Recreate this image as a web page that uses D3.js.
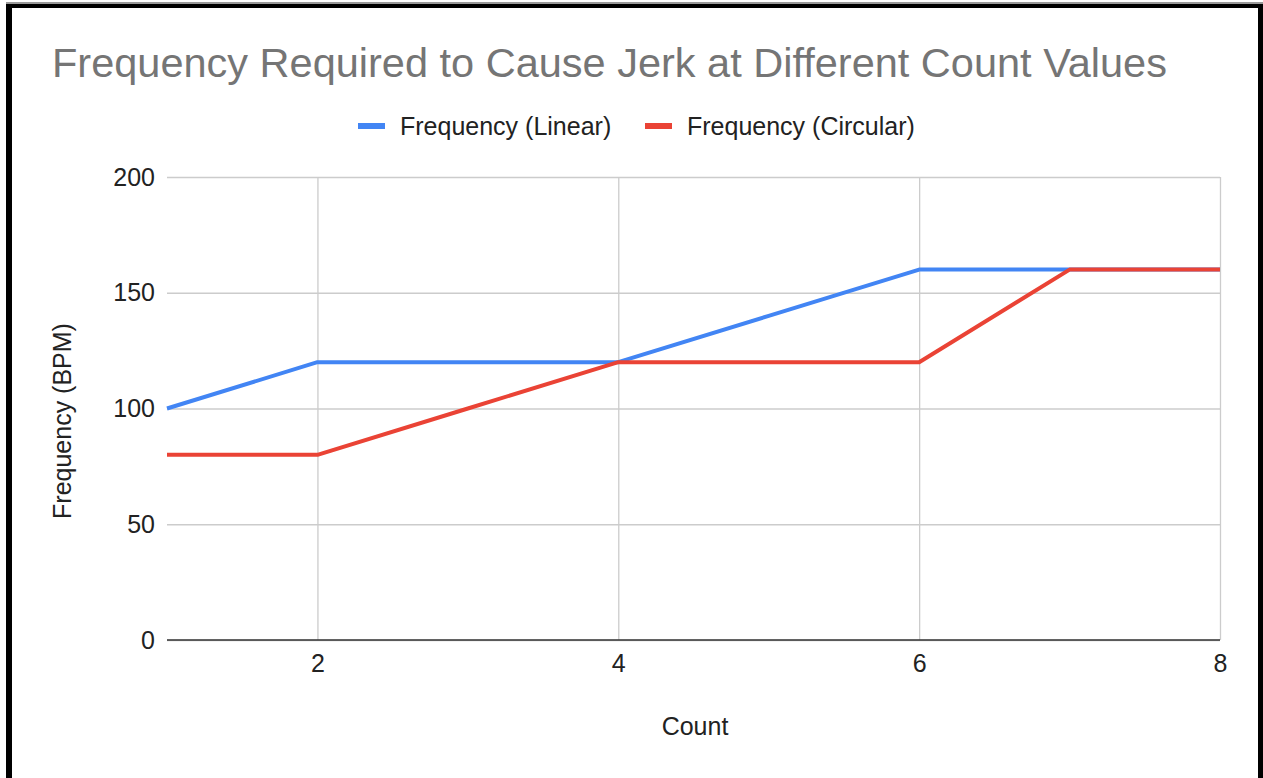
<!DOCTYPE html>
<html>
<head>
<meta charset="utf-8">
<script src="https://cdn.jsdelivr.net/npm/d3@7"></script>
<style>
  html, body { margin: 0; padding: 0; background: #fff; }
  svg { display: block; }
  text { font-family: "Liberation Sans", Arial, sans-serif; }
</style>
</head>
<body>
<svg id="chart" width="1263" height="778"></svg>
<script>
// Count values on the x axis
const counts = [1, 2, 3, 4, 5, 6, 7, 8];
// Frequency (BPM) needed to cause a jerk, per setup
const linearFreq = [100, 120, 120, 120, 140, 160, 160, 160];
const circularFreq = [80, 80, 100, 120, 120, 120, 160, 160];
const seriesNames = ["Frequency (Linear)", "Frequency (Circular)"];
const seriesColors = ["#4285F4", "#EA4335"];
const xTicks = [2, 4, 6, 8];
const yTicks = [0, 50, 100, 150, 200];

const W = 1263, H = 778;
const plot = { left: 167, right: 1220, top: 177, bottom: 640 };

const svg = d3.select("#chart");
svg.append("rect").attr("width", W).attr("height", H).attr("fill", "#fff");

const x = d3.scaleLinear().domain([1, 8]).range([plot.left, plot.right]);
const y = d3.scaleLinear().domain([0, 200]).range([plot.bottom, plot.top]);

// Horizontal gridlines and y tick labels
const yAxis = d3.axisLeft(y).tickValues(yTicks).tickSize(-(plot.right - plot.left)).tickPadding(12);
const gy = svg.append("g").attr("transform", `translate(${plot.left},0)`).call(yAxis);
gy.select(".domain").remove();
gy.selectAll(".tick line").attr("stroke", "#cccccc").attr("stroke-width", 1.3);
gy.selectAll(".tick text").attr("fill", "#222").attr("font-size", 25)
  .attr("font-family", "'Liberation Sans', Arial, sans-serif");

// Vertical gridlines and x tick labels
const xAxis = d3.axisBottom(x).tickValues(xTicks).tickSize(-(plot.bottom - plot.top)).tickPadding(14).tickFormat(d3.format("d"));
const gx = svg.append("g").attr("transform", `translate(0,${plot.bottom})`).call(xAxis);
gx.select(".domain").remove();
gx.selectAll(".tick line").attr("stroke", "#cccccc").attr("stroke-width", 1.3);
gx.selectAll(".tick text").attr("fill", "#222").attr("font-size", 25)
  .attr("font-family", "'Liberation Sans', Arial, sans-serif");

// Baseline at zero
svg.append("line")
  .attr("x1", plot.left).attr("x2", plot.right)
  .attr("y1", y(0)).attr("y2", y(0))
  .attr("stroke", "#333").attr("stroke-width", 1.5);

// Series lines
const line = d3.line().x((d, i) => x(counts[i])).y(d => y(d));
[linearFreq, circularFreq].forEach((vals, k) => {
  svg.append("path")
    .datum(vals)
    .attr("d", line)
    .attr("fill", "none")
    .attr("stroke", seriesColors[k])
    .attr("stroke-width", 4)
    .attr("stroke-linejoin", "round");
});

// Title
svg.append("text")
  .attr("x", 52).attr("y", 77)
  .attr("fill", "#757575").attr("font-size", 41.5)
  .text("Frequency Required to Cause Jerk at Different Count Values");

// Legend
const legendX = [358, 645];
seriesNames.forEach((name, k) => {
  svg.append("rect")
    .attr("x", legendX[k]).attr("y", 123)
    .attr("width", 27).attr("height", 6)
    .attr("fill", seriesColors[k]);
  svg.append("text")
    .attr("x", legendX[k] + 42).attr("y", 135)
    .attr("fill", "#222").attr("font-size", 25)
    .text(name);
});

// Axis titles
svg.append("text")
  .attr("x", (plot.left + plot.right) / 2 + 1.5).attr("y", 735)
  .attr("text-anchor", "middle")
  .attr("fill", "#222").attr("font-size", 25)
  .text("Count");

svg.append("text")
  .attr("transform", `translate(71,421) rotate(-90)`)
  .attr("text-anchor", "middle")
  .attr("fill", "#222").attr("font-size", 25)
  .text("Frequency (BPM)");

// Frame around the chart
svg.append("rect").attr("x", 6).attr("y", 2).attr("width", W - 6).attr("height", 2).attr("fill", "#999");
svg.append("rect").attr("x", 6).attr("y", 4).attr("width", W - 6).attr("height", 4).attr("fill", "#000");
svg.append("rect").attr("x", 6).attr("y", 4).attr("width", 6).attr("height", H - 4).attr("fill", "#000");
svg.append("rect").attr("x", 1258).attr("y", 4).attr("width", 5).attr("height", H - 4).attr("fill", "#000");
</script>
</body>
</html>
